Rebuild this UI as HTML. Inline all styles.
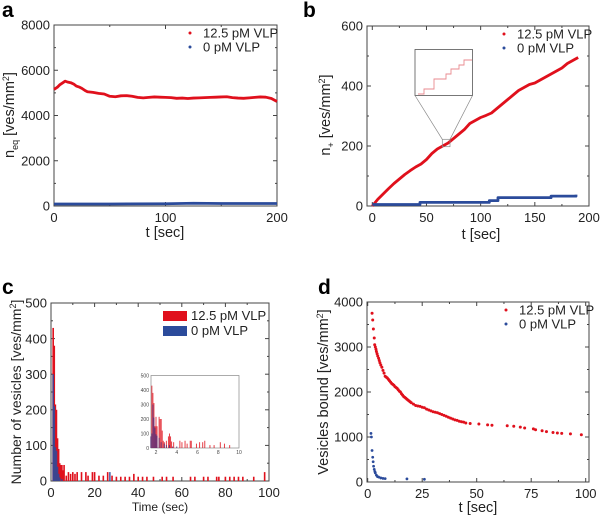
<!DOCTYPE html>
<html><head><meta charset="utf-8"><style>
html,body{margin:0;padding:0;background:#fff}
svg{display:block;font-family:"Liberation Sans",Arial,sans-serif}
</style></head><body>
<svg id="fig" width="600" height="517" viewBox="0 0 600 517"></svg>
<script>
// ---------- DATA ----------
const aRedT=[0,3,5,8,10,12,15,18,20,23,25,28,30,35,40,45,50,55,60,65,70,75,80,85,90,95,100,105,110,115,120,125,130,135,140,145,150,155,160,165,170,175,180,185,190,195,200];
const aRedY=[5150,5250,5350,5450,5520,5480,5450,5380,5300,5250,5200,5100,5050,5020,4980,4950,4850,4830,4870,4880,4850,4800,4780,4800,4820,4810,4800,4790,4760,4770,4750,4770,4780,4790,4800,4810,4820,4830,4790,4770,4760,4780,4800,4820,4810,4750,4620];
const aBlueT=[0,50,100,125,150,200];
const aBlueY=[90,90,100,120,110,110];
const bRedT=[0,5,10,15,20,25,30,35,40,45,50,55,60,65,70,75,80,85,90,95,100,105,110,115,120,125,130,135,140,145,150,155,160,165,170,175,180,185,190];
const bRedY=[0,22,40,58,75,90,105,118,130,140,155,175,190,200,210,225,240,255,275,285,295,302,310,325,340,355,370,385,395,405,410,420,430,440,450,460,475,485,495];
const bBlueT=[0,44,44,108,108,116,116,165,165,188,188];
const bBlueY=[5,5,12,12,18,18,28,28,33,33,38];
const cRedX=[1,1.5,2,2.5,3,3.5,4,4.5,5,5.5,6,7,8,9,10,11,12,14,16,17,19,20,22,24,26,28,30,32,34,36,38,40,42,44,47,51,53,56,64,66,70,72,76,77,80,82,84,86,88,93,98];
const cRedH=[430,380,215,200,120,90,50,45,45,30,45,15,25,20,25,20,25,25,25,15,25,25,15,15,25,15,12,12,12,12,20,12,12,12,12,12,12,12,12,12,12,12,12,12,12,12,12,12,12,12,25];
const cBlueX=[1,1.5,2,2.5,3,3.5,4,5,27];
const cBlueH=[300,210,95,85,40,20,10,5,25];
const ciRedX=[1.6,1.7,1.8,1.9,2.0,2.1,2.3,2.4,2.5,2.6,2.7,2.8,3.0,3.2,3.3,3.4,3.5,3.7,4.3,4.5,4.8,5.0,5.3,5.4,5.9,6.2,6.5,6.7,7.2,7.6,8.2,8.6,9.1];
const ciRedH=[430,380,310,150,215,150,215,200,200,120,50,40,50,80,100,80,45,40,50,40,50,30,50,50,30,40,40,50,20,20,40,30,20];
const ciBlueX=[1.5,1.6,1.7,1.8,1.9,2.0,2.1,2.3,2.5,2.8,3.0,3.3,3.6,4.0];
const ciBlueH=[80,100,300,210,140,95,85,70,40,30,20,20,10,10];
const dRedT=[2,2.3,2.6,3,3.2,3.5,3.8,4,4.3,4.6,5,5.3,5.6,6,6.5,7,7.5,8,8.5,9,9.5,10,10.5,11,11.5,12,12.5,13,13.5,14,14.5,15,15.5,16,16.5,17,17.5,18,18.5,19,19.5,20,21,22,23,24,25,26,27,28,29,30,31,32,33,34,35,36,37,38,39,40,41,42,43,44,45,47,51,55,57,64,67,70,72,76,77,80,82,85,87,89,93,98];
const dRedY=[3750,3600,3400,3200,3050,3000,2950,2900,2850,2800,2750,2700,2650,2600,2550,2480,2420,2350,2330,2310,2280,2250,2220,2190,2170,2150,2120,2100,2080,2050,2020,2000,1960,1930,1900,1880,1860,1840,1820,1800,1780,1760,1730,1700,1690,1680,1660,1650,1620,1600,1580,1560,1550,1540,1520,1500,1480,1460,1440,1420,1400,1380,1370,1350,1340,1330,1310,1300,1290,1270,1260,1250,1240,1220,1200,1180,1160,1140,1120,1100,1090,1080,1070,1050];
const dBlueT=[1.5,1.7,2,2.3,2.5,2.7,3,3.3,3.5,4,4.5,5,6,7,8,18,26];
const dBlueY=[1080,1000,700,550,450,350,280,230,200,150,120,110,90,80,75,70,60];

const NS="http://www.w3.org/2000/svg";
const svg=document.getElementById('fig');
function el(tag,attrs,parent,txt){const e=document.createElementNS(NS,tag);for(const k in attrs)e.setAttribute(k,attrs[k]);if(txt!==undefined)e.textContent=txt;(parent||svg).appendChild(e);return e;}
const RED="#e0101c",BLUE="#2b4b9b";
function scale(d0,d1,p0,p1){return v=>p0+(v-d0)*(p1-p0)/(d1-d0);}

function frame(name,L,R,T,B,xs,ys,xt,yt,fs,minor){
  const g=el('g',{});
  
  
  el('rect',{x:L,y:T,width:R-L,height:B-T,fill:'none',stroke:'#444','stroke-width':1},g);
  xt.forEach((v,i)=>{const x=xs(v);
    el('line',{x1:x,y1:B,x2:x,y2:B-4,stroke:'#444'},g);el('line',{x1:x,y1:T,x2:x,y2:T+4,stroke:'#444'},g);
    const t=el('text',{x:x,y:B+fs+3,'font-size':fs,'text-anchor':'middle',fill:'#222'},g,String(v));
    
    if(minor&&i<xt.length-1){const m=xs((v+xt[i+1])/2);el('line',{x1:m,y1:B,x2:m,y2:B-2,stroke:'#444'},g);el('line',{x1:m,y1:T,x2:m,y2:T+2,stroke:'#444'},g);}
  });
  yt.forEach((v,i)=>{const y=ys(v);
    el('line',{x1:L,y1:y,x2:L+4,y2:y,stroke:'#444'},g);el('line',{x1:R,y1:y,x2:R-4,y2:y,stroke:'#444'},g);
    const t=el('text',{x:L-4,y:y+fs*0.36,'font-size':fs,'text-anchor':'end',fill:'#222'},g,String(v));
    
    if(minor&&i<yt.length-1){const m=ys((v+yt[i+1])/2);el('line',{x1:L,y1:m,x2:L+2,y2:m,stroke:'#444'},g);el('line',{x1:R,y1:m,x2:R-2,y2:m,stroke:'#444'},g);}
  });
  return g;
}
function line(name,xs,ys,X,Y,color,w){
  const p=el('polyline',{points:X.map((v,i)=>xs(v)+','+ys(Y[i])).join(' '),fill:'none',stroke:color,'stroke-width':w,'stroke-linejoin':'round'});
  
}
function label(txt,x,y,name){const t=el('text',{x:x,y:y,'font-size':21,'font-weight':'bold',fill:'#000'},svg,txt);}
function dotLegend(name,x,y,items){items.forEach((it,i)=>{
  const g=el('g',{});
  el('circle',{cx:x,cy:y+i*14,r:1.5,fill:it[1]},g);
  el('text',{x:x+13,y:y+i*14+4.5,'font-size':13,fill:'#222'},g,it[0]);});}
function ytitle(x,y,html,name,fs){const t=el('text',{transform:`translate(${x},${y}) rotate(-90)`,'font-size':fs,'text-anchor':'middle',fill:'#222'});t.innerHTML=html;}
function xtitle(x,y,txt,name,fs){const t=el('text',{x:x,y:y,'font-size':fs,'text-anchor':'middle',fill:'#222'},svg,txt);}

// ---------- PANEL A ----------
{const L=54,R=277,T=25,B=206;const xs=scale(0,200,L,R),ys=scale(0,8000,B,T);
label('a',2,17,'panel-a-label');
frame('panel-a',L,R,T,B,xs,ys,[0,100,200],[0,2000,4000,6000,8000],13,true);
line('series-a-12.5pM',xs,ys,aRedT,aRedY,RED,2.8);
line('series-a-0pM',xs,ys,aBlueT,aBlueY,BLUE,2.8);
dotLegend('legend-a',190,33,[['12.5 pM VLP',RED],['0 pM VLP',BLUE]]);
ytitle(14,115,'n<tspan font-size="9" dy="4">eq</tspan><tspan dy="-4"> [ves/mm</tspan><tspan font-size="9" dy="-5">2</tspan><tspan dy="5">]</tspan>','y-axis-title-a',14.5);
xtitle(165,237,'t [sec]','x-axis-title-a',14.5);}

// ---------- PANEL B ----------
{const L=367,R=589,T=26,B=206;const xs=scale(0,200,372.3,589),ys=scale(0,600,B,T);
label('b',303,17,'panel-b-label');
frame('panel-b',L,R,T,B,xs,ys,[0,50,100,150,200],[0,200,400,600],13,true);
line('series-b-12.5pM',xs,ys,bRedT,bRedY,RED,2.8);
line('series-b-0pM',xs,ys,bBlueT,bBlueY,BLUE,2.8);
dotLegend('legend-b',504,34,[['12.5 pM VLP',RED],['0 pM VLP',BLUE]]);
ytitle(330,115,'n<tspan font-size="9" dy="4">+</tspan><tspan dy="-4"> [ves/mm</tspan><tspan font-size="9" dy="-5">2</tspan><tspan dy="5">]</tspan>','y-axis-title-b',14.5);
xtitle(481,239,'t [sec]','x-axis-title-b',14.5);
const ig=el('g',{});
el('rect',{x:415,y:49.5,width:57.5,height:46,fill:'#fff',stroke:'#555','stroke-width':0.8},ig);
el('rect',{x:442.3,y:139.3,width:7.7,height:7.4,fill:'none',stroke:'#888','stroke-width':0.7},ig);
el('line',{x1:415,y1:95.5,x2:442.3,y2:139.3,stroke:'#888','stroke-width':0.7},ig);
el('line',{x1:472.5,y1:95.5,x2:450,y2:139.3,stroke:'#888','stroke-width':0.7},ig);
el('polyline',{points:'418,94 424,94 424,89 434,89 434,79 446,79 446,74 451,74 451,69 459,69 459,65 464,65 464,60 472,60',fill:'none',stroke:'#e98a8f','stroke-width':0.9},ig);}

// ---------- PANEL C ----------
{const L=51,R=269,T=303,B=481;const xs=scale(0,100,L,R),ys=scale(0,500,B,T);
label('c',2,294,'panel-c-label');
frame('panel-c',L,R,T,B,xs,ys,[0,20,40,60,80,100],[0,100,200,300,400,500],13,true);
const bw=1.6;
cRedX.forEach((v,i)=>{const r=el('rect',{x:xs(v)-bw/2,y:ys(cRedH[i]),width:bw,height:B-ys(cRedH[i]),fill:RED});
});
cBlueX.forEach((v,i)=>{const r=el('rect',{x:xs(v)-bw/2,y:ys(cBlueH[i]),width:bw,height:B-ys(cBlueH[i]),fill:BLUE,'fill-opacity':0.85});
});
const lg=el('g',{});
el('rect',{x:163,y:311,width:24,height:10,fill:RED},lg);el('rect',{x:163,y:326,width:24,height:10,fill:BLUE},lg);
el('text',{x:191,y:320,'font-size':13,fill:'#222'},lg,'12.5 pM VLP');el('text',{x:191,y:335,'font-size':13,fill:'#222'},lg,'0 pM VLP');
ytitle(21,392,'Number of vesicles [ves/mm<tspan font-size="9" dy="-5">2</tspan><tspan dy="5">]</tspan>','y-axis-title-c',14);
xtitle(160,511,'Time (sec)','x-axis-title-c',12);
const iL=151,iR=239,iT=375.5,iB=448;const ixs=scale(2,10,156,239),iys=scale(0,500,iB,iT);
el('rect',{x:iL,y:iT,width:iR-iL,height:iB-iT,fill:'#fff',stroke:'#888','stroke-width':0.7});
const ib=1.0;
ciRedX.forEach((v,i)=>{const r=el('rect',{x:ixs(v)-ib/2,y:iys(ciRedH[i]),width:ib,height:iB-iys(ciRedH[i]),fill:RED,'fill-opacity':0.8});
});
ciBlueX.forEach((v,i)=>{const r=el('rect',{x:ixs(v)-ib/2,y:iys(ciBlueH[i]),width:ib,height:iB-iys(ciBlueH[i]),fill:'#5a2f78','fill-opacity':0.85});
});
[2,4,6,8,10].forEach(v=>{const t=el('text',{x:ixs(v),y:iB+6,'font-size':5,'text-anchor':'middle',fill:'#444'},svg,String(v));});
[0,100,200,300,400,500].forEach(v=>{const t=el('text',{x:iL-2,y:iys(v)+2,'font-size':5,'text-anchor':'end',fill:'#444'},svg,String(v));});}

// ---------- PANEL D ----------
{const L=367,R=589,T=302,B=482;const xs=scale(0,100,367.7,585.7),ys=scale(0,4000,B,T);
label('d',318,294,'panel-d-label');
frame('panel-d',L,R,T,B,xs,ys,[0,25,50,75,100],[0,1000,2000,3000,4000],13,true);
dRedT.forEach((v,i)=>{const c=el('circle',{cx:xs(v),cy:ys(dRedY[i]),r:1.5,fill:RED});});
dBlueT.forEach((v,i)=>{const c=el('circle',{cx:xs(v),cy:ys(dBlueY[i]),r:1.4,fill:BLUE});});
dotLegend('legend-d',506,310,[['12.5 pM VLP',RED],['0 pM VLP',BLUE]]);
ytitle(328,392,'Vesicles bound [ves/mm<tspan font-size="9" dy="-5">2</tspan><tspan dy="5">]</tspan>','y-axis-title-d',14.5);
xtitle(478,512,'t [sec]','x-axis-title-d',14.5);}
</script>
</body></html>
